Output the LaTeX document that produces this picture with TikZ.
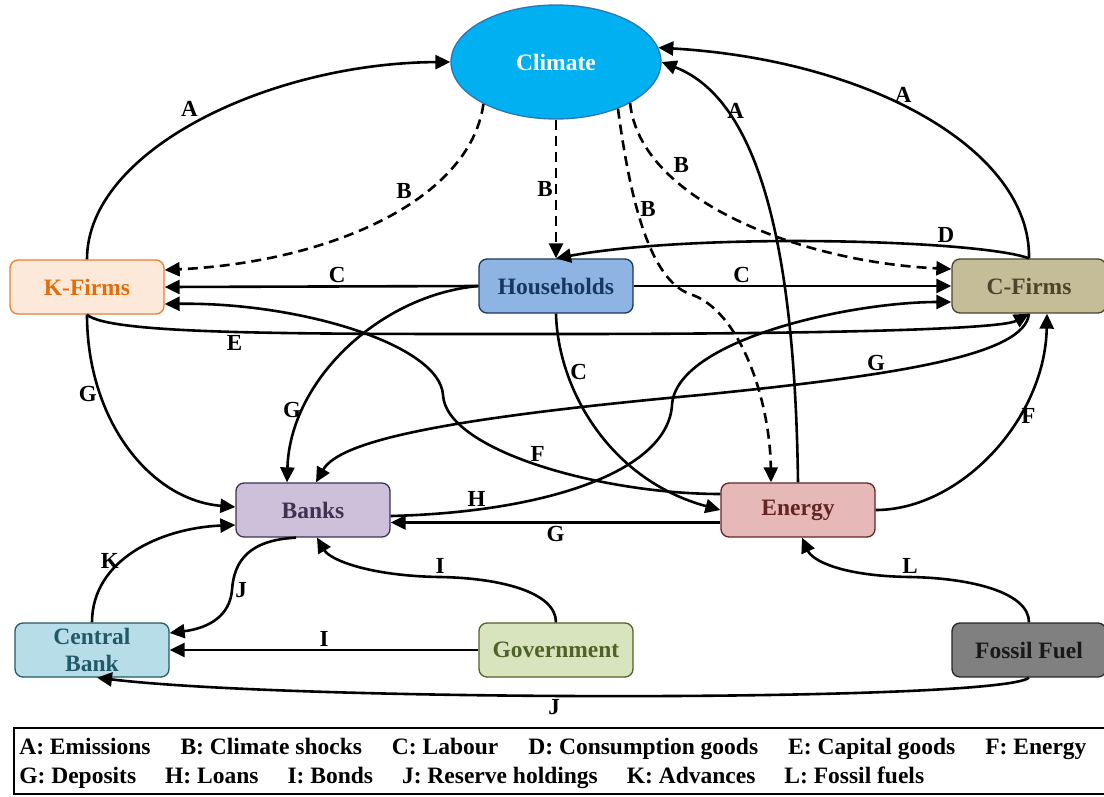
\documentclass[tikz,border=0pt]{standalone}
\usepackage{fontspec}
\setmainfont{Liberation Serif}
\usetikzlibrary{arrows.meta,shapes.geometric}
\definecolor{climfill}{HTML}{00B0F0}
\definecolor{climline}{HTML}{2E75B6}
\definecolor{kffill}{HTML}{FDE9D9}
\definecolor{kfline}{HTML}{ED7D31}
\definecolor{kftext}{HTML}{E46C0A}
\definecolor{hhfill}{HTML}{8EB4E3}
\definecolor{hhline}{HTML}{17375E}
\definecolor{cffill}{HTML}{C4BD97}
\definecolor{cfline}{HTML}{4A452A}
\definecolor{bkfill}{HTML}{CCC0DA}
\definecolor{bkline}{HTML}{403152}
\definecolor{enfill}{HTML}{E6B9B8}
\definecolor{enline}{HTML}{632523}
\definecolor{cbfill}{HTML}{B7DEE8}
\definecolor{cbline}{HTML}{215968}
\definecolor{gvfill}{HTML}{D7E4BD}
\definecolor{gvline}{HTML}{4F6228}
\definecolor{fffill}{HTML}{808080}
\definecolor{ffline}{HTML}{262626}
\tikzset{
  box/.style={draw, rounded corners=8pt, line width=1.3pt, minimum width=154pt,
    minimum height=54pt, align=center, font=\fontsize{23.5}{27}\selectfont\bfseries},
  flow/.style={-{Triangle[length=15pt,width=14pt]}},
  shock/.style={flow, dash pattern=on 10pt off 6pt},
  lbl/.style={font=\fontsize{23}{26}\selectfont\bfseries, inner sep=2pt}
}
\begin{document}
\begin{tikzpicture}[x=1pt, y=-1pt, line width=2.6pt]
  \useasboundingbox (0,0) rectangle (1104,796);
  % sectors
  \node[ellipse, draw=climline, fill=climfill, text=white, line width=1.3pt, minimum width=210pt,
    minimum height=114pt, font=\fontsize{23.5}{27}\selectfont\bfseries] (Clim) at (556,62) {Climate};
  \node[box, draw=kfline, fill=kffill, text=kftext] (KF) at (87,287) {K-Firms};
  \node[box, draw=hhline, fill=hhfill, text=hhline] (HH) at (556,286) {Households};
  \node[box, draw=cfline, fill=cffill, text=cfline] (CF) at (1029,286) {C-Firms};
  \node[box, draw=bkline, fill=bkfill, text=bkline] (Bank) at (313,510) {Banks};
  \node[box, draw=enline, fill=enfill, text=enline] (En) at (798,510) {Energy};
  \node[box, draw=cbline, fill=cbfill, text=cbline] (CB) at (92,650) {Central\\Bank};
  \node[box, draw=gvline, fill=gvfill, text=gvline] (Gov) at (556,650) {Government};
  \node[box, draw=ffline, fill=fffill, text=black!90] (FF) at (1029,650) {Fossil Fuel};
  % emissions
  \draw[flow] (KF.north) .. controls (87,150) and (270,63) .. (Clim.west) node[lbl, pos=0.5, above left] {A};
  \draw[flow] (CF.north) .. controls (1031,150) and (870,60) .. (Clim.8) node[lbl, pos=0.55, above] {A};
  \draw[flow] (En.north) .. controls (795,250) and (760,100) .. (Clim.east) node[lbl, pos=0.75, right] {A};
  % climate shocks
  \draw[shock] (Clim.-150) .. controls (470,200) and (330,262) .. ([yshift=17pt]KF.east) node[lbl, pos=0.43, above=6pt] {B};
  \draw[shock] (Clim.south) -- (HH.north) node[lbl, midway, left] {B};
  \draw[shock] (Clim.-37) .. controls (630,200) and (650,280) .. (690,294) node[lbl, pos=0.4, right] {B}
    .. controls (740,310) and (770,400) .. ([xshift=-27pt]En.north);
  \draw[shock] (Clim.-29) .. controls (640,200) and (800,262) .. ([yshift=17pt]CF.west) node[lbl, pos=0.28, above right] {B};
  % goods and labour
  \draw[flow] (CF.north) .. controls (980,240) and (700,232) .. (HH.north) node[lbl, pos=0.27, above] {D};
  \draw[flow] (HH.west) -- (KF.east) node[lbl, pos=0.45, above] {C};
  \draw[flow] (HH.east) -- (CF.west) node[lbl, pos=0.34, above] {C};
  \draw[flow] (HH.south) .. controls (558,390) and (610,480) .. (En.west) node[lbl, pos=0.25, right] {C};
  \draw[flow] (KF.south) .. controls (110,335) and (300,334) .. (560,334) node[lbl, pos=0.5, below] {E}
    .. controls (800,334) and (1000,330) .. (CF.south);
  \draw[flow] ([yshift=16pt]En.west) .. controls (600,494) and (446,450) .. (443,395) node[lbl, pos=0.5, above] {F}
    .. controls (440,345) and (300,302) .. ([yshift=-17pt]KF.east);
  \draw[flow] (En.east) .. controls (960,510) and (1045,420) .. ([xshift=18pt]CF.south) node[lbl, pos=0.65, right] {F};
  % deposits and loans
  \draw[flow] (KF.south) .. controls (87,420) and (150,500) .. ([yshift=3pt]Bank.west) node[lbl, pos=0.27, left] {G};
  \draw[flow] (HH.west) .. controls (380,295) and (290,380) .. ([xshift=-26pt]Bank.north) node[lbl, pos=0.75, left] {G};
  \draw[flow] (CF.south) .. controls (1025,355) and (900,375) .. (700,395) node[lbl, pos=0.66, above] {G}
    .. controls (450,418) and (340,440) .. ([xshift=3pt]Bank.north);
  \draw[flow] ([yshift=-6pt]Bank.east) .. controls (550,512) and (668,470) .. (672,405) node[lbl, pos=0.19, above] {H}
    .. controls (676,340) and (850,302) .. ([yshift=-16pt]CF.west);
  \draw[flow] ([yshift=-12.5pt]En.west) -- ([yshift=-12.5pt]Bank.east) node[lbl, midway, below] {G};
  % central bank and government
  \draw[flow] (CB.north) .. controls (92,560) and (160,528) .. ([yshift=-15pt]Bank.west) node[lbl, pos=0.41, left] {K};
  \draw[flow] ([xshift=-17pt]Bank.south) .. controls (250,540) and (234,560) .. (232,590) node[lbl, pos=1, right] {J}
    .. controls (230,615) and (210,628) .. ([yshift=17pt]CB.east);
  \draw[flow] (Gov.north) .. controls (556,592) and (500,578) .. (440,577) node[lbl, pos=1, above] {I}
    .. controls (370,576) and (330,560) .. ([xshift=4pt]Bank.south);
  \draw[flow] (Gov.west) -- (CB.east) node[lbl, midway, above] {I};
  \draw[flow] (FF.north) .. controls (1029,592) and (970,578) .. (910,577) node[lbl, pos=1, above] {L}
    .. controls (840,576) and (812,560) .. ([xshift=4pt]En.south);
  \draw[flow] (FF.south) .. controls (1000,702) and (300,702) .. ([xshift=5pt]CB.south) node[lbl, pos=0.56, below] {J};
  % key
  \draw[line width=2.6pt] (14,728) rectangle (1112,794);
  \node[anchor=base west, inner sep=0pt, font=\fontsize{23.5}{27}\selectfont\bfseries] (Key1) at (18,754)
    {A: Emissions\hspace{30pt}B: Climate shocks\hspace{30pt}C: Labour\hspace{30pt}D: Consumption goods\hspace{30pt}E: Capital goods\hspace{30pt}F: Energy};
  \node[anchor=base west, inner sep=0pt, font=\fontsize{23.5}{27}\selectfont\bfseries] (Key2) at (18,783)
    {G: Deposits\hspace{29pt}H: Loans\hspace{29pt}I: Bonds\hspace{29pt}J: Reserve holdings\hspace{29pt}K: Advances\hspace{29pt}L: Fossil fuels};
\end{tikzpicture}
\end{document}
